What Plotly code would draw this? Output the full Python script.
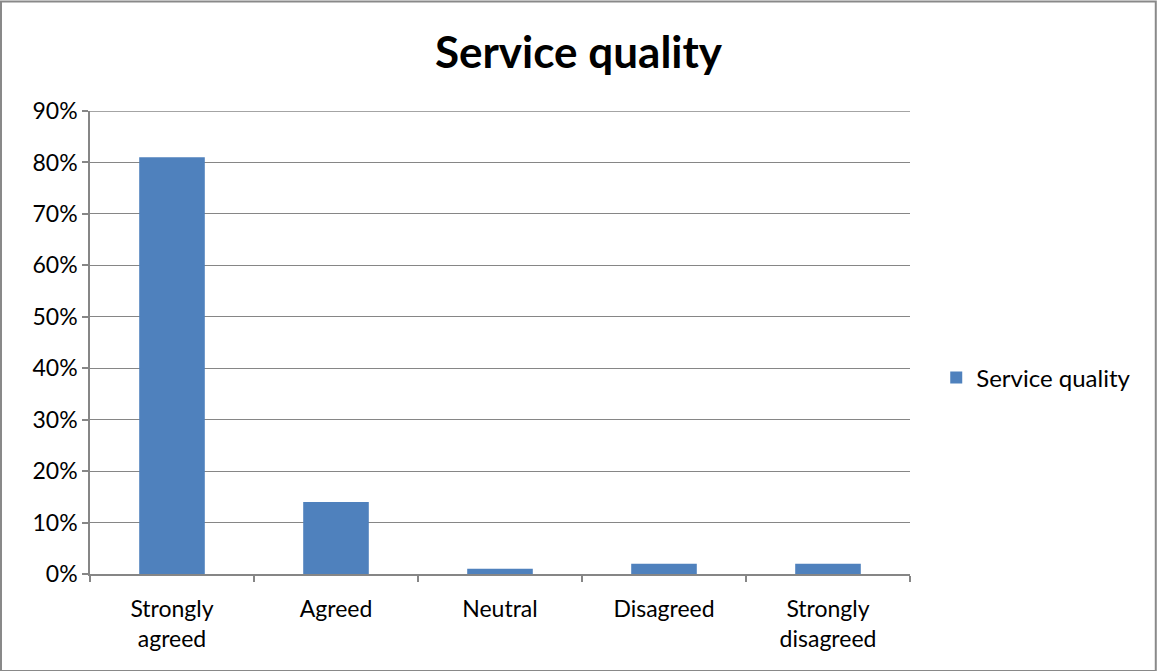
import plotly.graph_objects as go

categories = ["Strongly<br>agreed", "Agreed", "Neutral", "Disagreed", "Strongly<br>disagreed"]
values = [0.81, 0.14, 0.01, 0.02, 0.02]
series_name = "Service quality"
y_ticks = [0, 0.1, 0.2, 0.3, 0.4, 0.5, 0.6, 0.7, 0.8, 0.9]

FONT = "Lato, Open Sans, sans-serif"
GRAY = "#868686"

fig = go.Figure(go.Bar(
    x=categories, y=values, name=series_name,
    marker=dict(color="#4F81BD", line=dict(width=0)),
    showlegend=True,
))

fig.update_layout(
    width=1157, height=671,
    margin=dict(l=90, r=247, t=111, b=97),
    paper_bgcolor="white", plot_bgcolor="white",
    bargap=0.6,
    title=dict(text="<b>Service quality</b>", x=0.5, xref="container", xanchor="center",
               y=1 - 53/671, yanchor="middle",
               font=dict(family=FONT, size=44, color="black")),
    font=dict(family=FONT, size=23, color="black"),
    legend=dict(x=1.032, xanchor="left", y=(574 - 378) / 463, yanchor="middle",
                font=dict(size=24)),
    shapes=[
        dict(type="rect", xref="paper", yref="paper",
             x0=-89/820, x1=(820+247)/820 - 0.0015,
             y0=-97/463, y1=(463+111)/463 - 0.003,
             line=dict(color="#898989", width=2), fillcolor="rgba(0,0,0,0)"),
        dict(type="line", xref="paper", yref="y", x0=0, x1=1, y0=y_ticks[-1], y1=y_ticks[-1],
             line=dict(color=GRAY, width=1.5)),
    ],
)

fig.update_xaxes(
    type="category", tickson="boundaries", ticks="outside", ticklen=6,
    tickcolor=GRAY, tickwidth=1.5,
    showline=True, linecolor=GRAY, linewidth=1.5,
    showgrid=False, tickfont=dict(size=23), ticklabelstandoff=14,
)
fig.update_yaxes(
    range=[0, 0.9], tickvals=y_ticks, tickformat=".0%",
    ticks="outside", ticklen=6, tickcolor=GRAY, tickwidth=1.5,
    showline=True, linecolor=GRAY, linewidth=1.5,
    showgrid=True, gridcolor=GRAY, gridwidth=1,
    zeroline=False, tickfont=dict(size=23),
)

fig.write_html("out.html")
